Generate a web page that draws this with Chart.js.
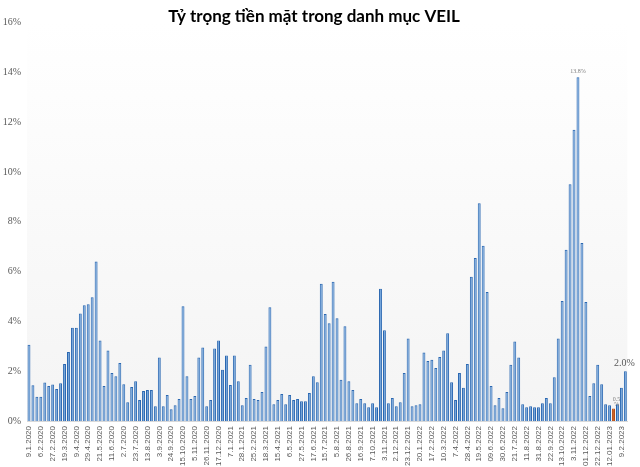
<!DOCTYPE html>
<html>
<head>
<meta charset="utf-8">
<script src="https://cdn.jsdelivr.net/npm/chart.js@4/dist/chart.umd.min.js"></script>
<style>
  html, body { margin: 0; padding: 0; background: #ffffff; }
  #wrap { width: 640px; height: 467px; position: relative; }
</style>
</head>
<body>
<div id="wrap"><canvas id="c" width="640" height="467"></canvas></div>
<script>
const chartTitle = "Tỷ trọng tiền mặt trong danh mục VEIL";

const weekLabels = [
  "9.1.2020","16.1.2020","30.1.2020","6.2.2020","13.2.2020","20.2.2020",
  "27.2.2020","5.3.2020","12.3.2020","19.3.2020","26.3.2020","2.4.2020",
  "9.4.2020","16.4.2020","23.4.2020","29.4.2020","7.5.2020","14.5.2020",
  "21.5.2020","28.5.2020","4.6.2020","11.6.2020","18.6.2020","25.6.2020",
  "2.7.2020","9.7.2020","16.7.2020","23.7.2020","30.7.2020","6.8.2020",
  "13.8.2020","20.8.2020","27.8.2020","3.9.2020","10.9.2020","17.9.2020",
  "24.9.2020","1.10.2020","8.10.2020","15.10.2020","22.10.2020","29.10.2020",
  "5.11.2020","12.11.2020","19.11.2020","26.11.2020","3.12.2020","10.12.2020",
  "17.12.2020","24.12.2020","31.12.2020","7.1.2021","14.1.2021","21.1.2021",
  "28.1.2021","4.2.2021","18.2.2021","25.2.2021","4.3.2021","11.3.2021",
  "18.3.2021","25.3.2021","8.4.2021","15.4.2021","22.4.2021","29.4.2021",
  "6.5.2021","13.5.2021","20.5.2021","27.5.2021","3.6.2021","10.6.2021",
  "17.6.2021","24.6.2021","8.7.2021","15.7.2021","22.7.2021","29.7.2021",
  "5.8.2021","12.8.2021","19.8.2021","26.8.2021","2.9.2021","9.9.2021",
  "16.9.2021","23.9.2021","30.9.2021","7.10.2021","14.10.2021","21.10.2021",
  "3.11.2021","11.11.2021","18.11.2021","2.12.2021","9.12.2021","16.12.2021",
  "23.12.2021","30.12.2021","6.1.2022","20.1.2022","27.1.2022","10.2.2022",
  "17.2.2022","24.2.2022","3.3.2022","10.3.2022","17.3.2022","24.3.2022",
  "7.4.2022","14.4.2022","21.4.2022","28.4.2022","5.5.2022","12.5.2022",
  "19.5.2022","26.5.2022","2.6.2022","09.6.2022","16.6.2022","23.6.2022",
  "30.6.2022","7.7.2022","14.7.2022","21.7.2022","28.7.2022","4.8.2022",
  "11.8.2022","18.8.2022","25.8.2022","31.8.2022","8.9.2022","15.9.2022",
  "22.9.2022","29.9.2022","6.10.2022","13.10.2022","20.10.2022","27.10.2022",
  "3.11.2022","10.11.2022","17.11.2022","01.12.2022","8.12.2022","15.12.2022",
  "22.12.2022","29.12.2022","05.01.2023","12.01.2023","19.01.2023","2.2.2023",
  "9.2.2023","16.2.2023"
];

const cashWeight = [
  3.06, 1.44, 0.97, 0.97, 1.55, 1.40, 1.47, 1.28, 1.52, 2.29,
  2.77, 3.74, 3.74, 4.32, 4.65, 4.69, 4.97, 6.40, 3.23, 1.40,
  2.83, 1.93, 1.80, 2.33, 1.48, 0.75, 1.36, 1.60, 0.84, 1.20,
  1.24, 1.24, 0.59, 2.55, 0.59, 1.04, 0.47, 0.63, 0.88, 4.61,
  1.80, 0.88, 1.00, 2.55, 2.95, 0.59, 0.84, 2.91, 3.23, 2.06,
  2.63, 1.45, 2.63, 1.60, 0.63, 0.92, 2.26, 0.88, 0.84, 1.16,
  2.99, 4.57, 0.67, 0.84, 1.08, 0.67, 1.04, 0.84, 0.88, 0.79,
  0.79, 1.12, 1.80, 1.56, 5.51, 4.30, 3.92, 5.59, 4.12, 1.66,
  3.80, 1.60, 1.24, 0.71, 0.88, 0.71, 0.55, 0.71, 0.55, 5.31,
  3.64, 0.71, 0.92, 0.59, 0.75, 1.93, 3.31, 0.59, 0.63, 0.67,
  2.75, 2.41, 2.46, 2.13, 2.57, 2.83, 3.52, 1.56, 0.84, 1.93,
  1.33, 2.29, 5.79, 6.54, 8.74, 7.03, 5.18, 1.40, 0.63, 0.92,
  0.51, 1.16, 2.26, 3.19, 2.55, 0.67, 0.55, 0.59, 0.55, 0.55,
  0.71, 0.92, 0.71, 1.76, 3.31, 4.82, 6.87, 9.50, 11.69, 13.8,
  7.15, 4.78, 1.00, 1.52, 2.26, 1.48, 0.67, 0.63, 0.5, 0.67,
  1.33, 2.0
];

const highlightIndex = 148;
const yTicks = [0, 2, 4, 6, 8, 10, 12, 14, 16];
const labelStep = 3;

// point labels: index -> lines
const pointLabelIdx = [139, 148, 151];
const pointLabelText = [["13.8%"], ["0.5", "%"], ["2.0%"]];

const barFill = cashWeight.map((v, i) => i === highlightIndex ? "#c8581a" : "#6b9fd8");
const barBorder = cashWeight.map((v, i) => i === highlightIndex ? "#b5480e" : "#2a67b1");

const bgPlugin = {
  id: "areaBg",
  beforeDraw(chart) {
    const { ctx, chartArea: a } = chart;
    const g = ctx.createLinearGradient(0, a.top, 0, a.bottom);
    g.addColorStop(0, "#ffffff");
    g.addColorStop(1, "#f4f4f4");
    ctx.save();
    ctx.fillStyle = g;
    ctx.fillRect(a.left, a.top, a.right - a.left, a.bottom - a.top);
    ctx.restore();
  }
};

const labelPlugin = {
  id: "pointLabels",
  afterDatasetsDraw(chart) {
    const { ctx } = chart;
    const meta = chart.getDatasetMeta(0);
    ctx.save();
    ctx.textAlign = "center";
    ctx.textBaseline = "bottom";
    pointLabelIdx.forEach((idx, k) => {
      const el = meta.data[idx];
      const lines = pointLabelText[k];
      if (idx === 151) {
        ctx.font = "10px 'Liberation Serif', serif";
        ctx.fillStyle = "#595959";
        ctx.fillText(lines[0], el.x - 1, el.y - 3);
      } else if (idx === 148) {
        ctx.font = "6px 'Liberation Serif', serif";
        ctx.fillStyle = "#7f7f7f";
        ctx.fillText(lines[0], el.x + 3, el.y - 6);
        ctx.fillText(lines[1], el.x + 3, el.y - 1);
      } else {
        ctx.font = "6px 'Liberation Serif', serif";
        ctx.fillStyle = "#7f7f7f";
        ctx.fillText(lines[0], el.x, el.y - 3);
      }
    });
    ctx.restore();
  }
};

new Chart(document.getElementById("c"), {
  type: "bar",
  data: {
    labels: weekLabels,
    datasets: [{
      data: cashWeight,
      backgroundColor: barFill,
      borderColor: barBorder,
      borderWidth: 1,
      borderSkipped: "bottom",
      categoryPercentage: 1.0,
      barPercentage: 0.74
    }]
  },
  options: {
    responsive: false,
    animation: false,
    devicePixelRatio: 1,
    layout: { padding: { left: 0, right: 12, top: 0, bottom: 0 } },
    plugins: {
      legend: { display: false },
      tooltip: { enabled: false },
      title: {
        display: true,
        text: chartTitle,
        color: "#000000",
        font: { family: "Lato, 'Liberation Sans', sans-serif", size: 17, weight: "bold", lineHeight: 1.2 },
        padding: { top: 6, bottom: -4 }
      }
    },
    scales: {
      x: {
        grid: { display: false, drawTicks: false },
        border: { display: true, color: "#d9d9d9" },
        afterFit: s => { s.height = 46; },
        ticks: {
          autoSkip: false,
          maxRotation: 90,
          minRotation: 90,
          padding: 5,
          color: "#595959",
          font: { family: "'Liberation Sans Narrow', 'Liberation Sans', sans-serif", size: 8 },
          callback: function (v, i) { return i % labelStep === 0 ? weekLabels[i] : ""; }
        }
      },
      y: {
        min: 0,
        max: 16,
        afterFit: s => { s.width = 27; },
        afterBuildTicks: s => { s.ticks = yTicks.map(v => ({ value: v })); },
        grid: { display: false, drawTicks: false },
        border: { display: false },
        ticks: {
          padding: 6,
          color: "#595959",
          font: { family: "'Liberation Serif', serif", size: 10 },
          callback: v => v + "%"
        }
      }
    }
  },
  plugins: [bgPlugin, labelPlugin]
});
</script>
</body>
</html>
